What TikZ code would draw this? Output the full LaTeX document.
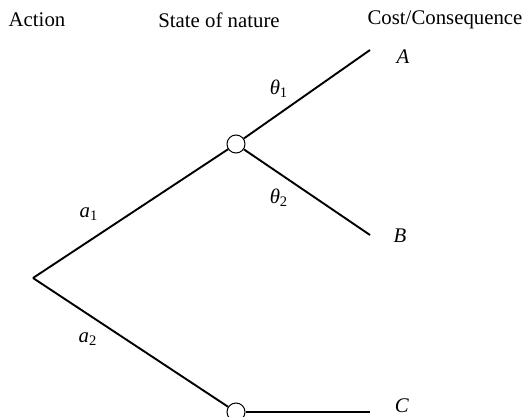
\documentclass[tikz,border=0pt]{standalone}
\usepackage{fontspec}
\setmainfont{Liberation Serif}
\usepackage{tikz}

\begin{document}
\begin{tikzpicture}[x=0.5pt,y=-0.5pt,
    chance/.style={circle,draw,fill=white,line width=0.5pt,inner sep=0pt,minimum size=9pt},
    branch/.style={line width=0.95pt},
    lbl/.style={inner sep=0pt,font=\fontsize{10.4}{12}\selectfont}]
  \useasboundingbox (0,0) rectangle (524,417);
  \node[lbl] (hAction) at (37,20) {Action};
  \node[lbl] (hState) at (219,20) {State of nature};
  \node[lbl] (hCost) at (445,20) {Cost/Consequence};
  \coordinate (root) at (33,278);
  \node[chance] (n1) at (236,144) {};
  \node[chance] (n2) at (236,412) {};
  \coordinate (eA) at (370,50);
  \coordinate (eB) at (370,235);
  \coordinate (eC) at (370,412);
  \draw[branch] (root) -- (n1);
  \draw[branch] (root) -- (n2);
  \draw[branch] (n1) -- (eA);
  \draw[branch] (n1) -- (eB);
  \draw[branch] (n2) -- (eC);
  \node[lbl] (tA) at (403,57) {\textit{A}};
  \node[lbl] (tB) at (400,236) {\textit{B}};
  \node[lbl] (tC) at (402,406) {\textit{C}};
  \node[lbl] (th1) at (279,89) {\textit{θ}\textsubscript{1}};
  \node[lbl] (th2) at (279,198) {\textit{θ}\textsubscript{2}};
  \node[lbl] (ac1) at (89,214) {\textit{a}\textsubscript{1}};
  \node[lbl] (ac2) at (88,339) {\textit{a}\textsubscript{2}};
\end{tikzpicture}
\end{document}
